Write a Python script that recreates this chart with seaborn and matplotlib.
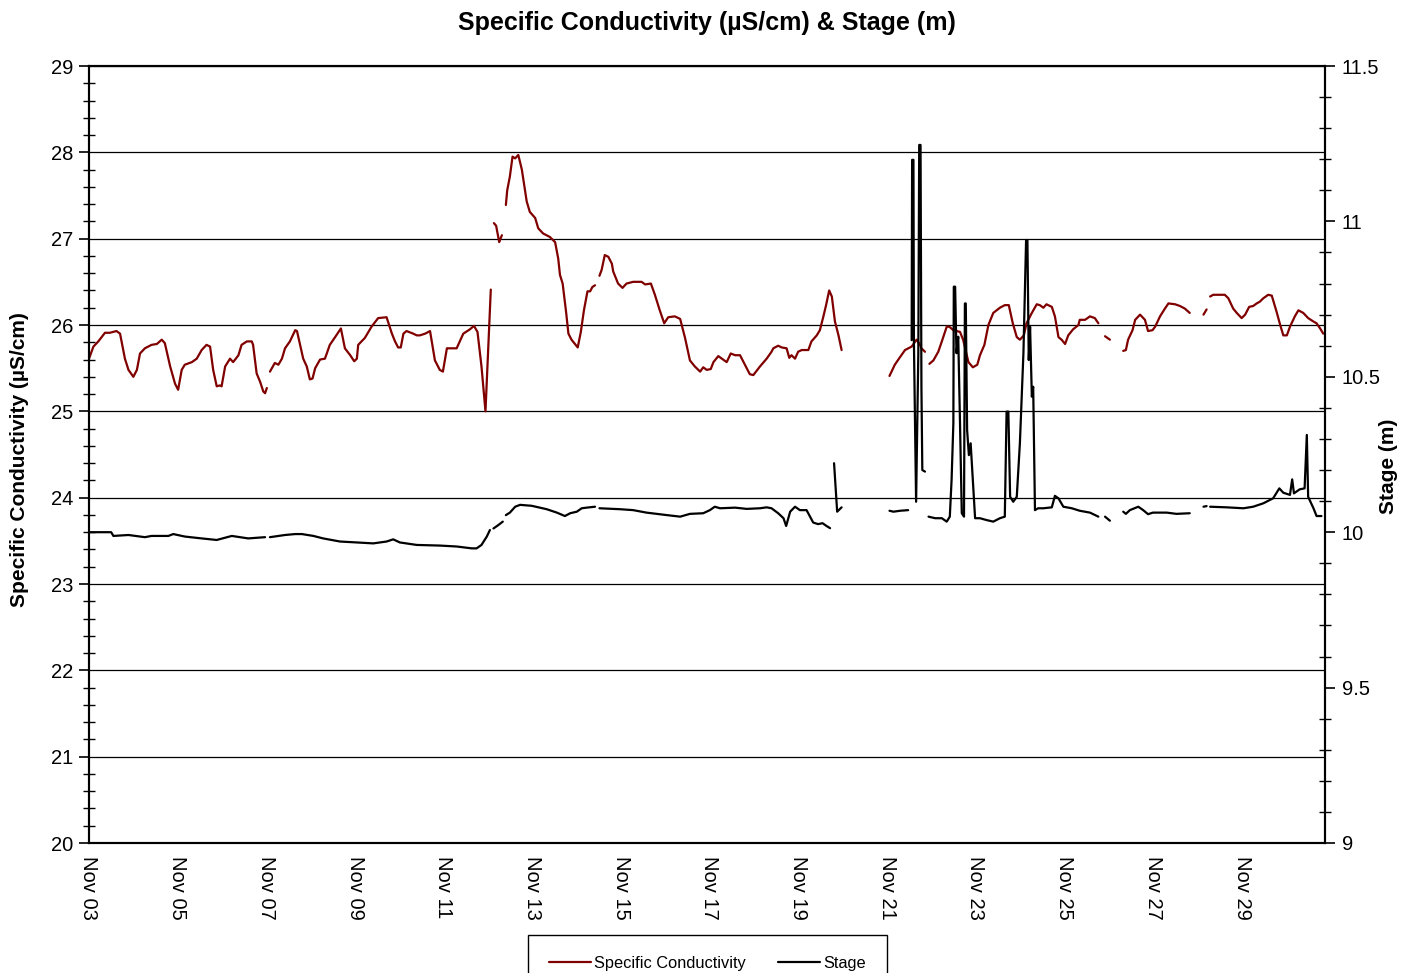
import numpy as np
import pandas as pd
import matplotlib
matplotlib.use("Agg")
import matplotlib.pyplot as plt
import matplotlib.dates as mdates
from matplotlib.ticker import MultipleLocator, FuncFormatter
from matplotlib.lines import Line2D
import seaborn as sns

# ---------------------------------------------------------------------------
# Data: (days since 03 Nov 00:00, value); GAP marks a break in the record
# ---------------------------------------------------------------------------
GAP = (np.nan, np.nan)
START = pd.Timestamp("2008-11-03")
END_DAYS = 27.87

conductivity = [
    (0.00, 25.61), (0.10, 25.75), (0.21, 25.81), (0.36, 25.91), (0.47, 25.91), (0.62, 25.93),
    (0.70, 25.90), (0.81, 25.61), (0.89, 25.48), (1.00, 25.40), (1.08, 25.48), (1.15, 25.67),
    (1.26, 25.73), (1.41, 25.77), (1.53, 25.78), (1.64, 25.83), (1.71, 25.79), (1.83, 25.52),
    (1.94, 25.32), (2.01, 25.25), (2.09, 25.48), (2.16, 25.54), (2.32, 25.57), (2.43, 25.61),
    (2.54, 25.71), (2.65, 25.77), (2.73, 25.75), (2.80, 25.48), (2.88, 25.29), (2.95, 25.30),
    (2.99, 25.29), (3.07, 25.52), (3.18, 25.61), (3.25, 25.57), (3.37, 25.65), (3.44, 25.77),
    (3.56, 25.81), (3.67, 25.81), (3.70, 25.77), (3.78, 25.44), (3.86, 25.34), (3.93, 25.23),
    (3.97, 25.21), (4.01, 25.27),
    GAP,
    (4.08, 25.46), (4.19, 25.56), (4.27, 25.54), (4.35, 25.61), (4.42, 25.73), (4.53, 25.81),
    (4.65, 25.94), (4.69, 25.93), (4.83, 25.61), (4.91, 25.52), (4.98, 25.37), (5.04, 25.38),
    (5.10, 25.50), (5.21, 25.60), (5.32, 25.61), (5.43, 25.77), (5.55, 25.86), (5.68, 25.96),
    (5.77, 25.73), (5.89, 25.65), (5.98, 25.58), (6.04, 25.61), (6.07, 25.77), (6.22, 25.85),
    (6.37, 25.98), (6.52, 26.08), (6.71, 26.09), (6.83, 25.90), (6.90, 25.81), (6.97, 25.74),
    (7.03, 25.74), (7.09, 25.90), (7.16, 25.93), (7.31, 25.90), (7.39, 25.88), (7.46, 25.88),
    (7.58, 25.90), (7.69, 25.93), (7.80, 25.59), (7.91, 25.48), (7.98, 25.46), (8.07, 25.73),
    (8.18, 25.73), (8.29, 25.73), (8.44, 25.90), (8.59, 25.95), (8.68, 25.99), (8.76, 25.92),
    (8.85, 25.52), (8.94, 25.00), (9.06, 26.41),
    GAP,
    (9.13, 27.18), (9.18, 27.15), (9.25, 26.96), (9.31, 27.04),
    GAP,
    (9.40, 27.39), (9.43, 27.56), (9.49, 27.72), (9.55, 27.95), (9.61, 27.93), (9.68, 27.97),
    (9.76, 27.80), (9.87, 27.43), (9.94, 27.31), (10.06, 27.24), (10.13, 27.12), (10.24, 27.06),
    (10.39, 27.02), (10.51, 26.96), (10.58, 26.77), (10.62, 26.58), (10.68, 26.48), (10.76, 26.14),
    (10.81, 25.90), (10.88, 25.83), (11.02, 25.74), (11.09, 25.92), (11.16, 26.17), (11.24, 26.39),
    (11.30, 26.39), (11.35, 26.44), (11.41, 26.46),
    GAP,
    (11.51, 26.57), (11.56, 26.64), (11.63, 26.81), (11.71, 26.79), (11.79, 26.71), (11.82, 26.62),
    (11.93, 26.48), (12.03, 26.43), (12.12, 26.48), (12.27, 26.50), (12.46, 26.50), (12.54, 26.47),
    (12.67, 26.48), (12.76, 26.35), (12.87, 26.17), (12.97, 26.02), (13.06, 26.09), (13.21, 26.10),
    (13.33, 26.07), (13.44, 25.85), (13.55, 25.59), (13.66, 25.52), (13.78, 25.46), (13.85, 25.51),
    (13.93, 25.48), (14.02, 25.49), (14.08, 25.57), (14.19, 25.64), (14.27, 25.61), (14.38, 25.57),
    (14.47, 25.67), (14.57, 25.65), (14.68, 25.65), (14.79, 25.54), (14.90, 25.43), (14.98, 25.42),
    (15.13, 25.52), (15.28, 25.61), (15.39, 25.69), (15.43, 25.73), (15.54, 25.76), (15.62, 25.74),
    (15.73, 25.73), (15.79, 25.62), (15.84, 25.65), (15.92, 25.61), (15.99, 25.69), (16.07, 25.71),
    (16.22, 25.71), (16.29, 25.81), (16.41, 25.88), (16.48, 25.94), (16.56, 26.10), (16.62, 26.23),
    (16.69, 26.40), (16.75, 26.33), (16.82, 26.04), (16.90, 25.88), (16.97, 25.71),
    GAP,
    (18.05, 25.41), (18.17, 25.54), (18.29, 25.63), (18.40, 25.71), (18.55, 25.75), (18.66, 25.83),
    (18.74, 25.77), (18.77, 25.73), (18.85, 25.69),
    GAP,
    (18.95, 25.55), (19.04, 25.59), (19.15, 25.69), (19.23, 25.81), (19.34, 25.98), (19.40, 25.98),
    (19.49, 25.94), (19.64, 25.92), (19.71, 25.83), (19.83, 25.57), (19.93, 25.51), (20.03, 25.54),
    (20.09, 25.65), (20.19, 25.77), (20.28, 26.00), (20.39, 26.14), (20.54, 26.20), (20.65, 26.23),
    (20.74, 26.23), (20.83, 26.02), (20.92, 25.86), (20.99, 25.83), (21.08, 25.88), (21.14, 26.02),
    (21.26, 26.14), (21.37, 26.24), (21.44, 26.23), (21.52, 26.20), (21.59, 26.24), (21.71, 26.21),
    (21.78, 26.10), (21.86, 25.86), (21.93, 25.83), (22.01, 25.78), (22.08, 25.88), (22.19, 25.95),
    (22.31, 26.00), (22.34, 26.06), (22.46, 26.06), (22.57, 26.10), (22.68, 26.08), (22.76, 26.02),
    GAP,
    (22.91, 25.87), (23.02, 25.83),
    GAP,
    (23.32, 25.70), (23.38, 25.71), (23.43, 25.83), (23.53, 25.94), (23.59, 26.06), (23.70, 26.12),
    (23.81, 26.06), (23.88, 25.93), (23.98, 25.94), (24.04, 25.98), (24.15, 26.10), (24.26, 26.19),
    (24.34, 26.25), (24.49, 26.24), (24.60, 26.22), (24.71, 26.19), (24.82, 26.14),
    GAP,
    (25.13, 26.12), (25.20, 26.18),
    GAP,
    (25.28, 26.33), (25.35, 26.35), (25.61, 26.35), (25.69, 26.31), (25.80, 26.19), (25.88, 26.14),
    (25.99, 26.08), (26.07, 26.12), (26.16, 26.21), (26.25, 26.22), (26.33, 26.25), (26.40, 26.27),
    (26.48, 26.31), (26.59, 26.35), (26.67, 26.34), (26.78, 26.15), (26.86, 26.00), (26.93, 25.88),
    (27.01, 25.88), (27.08, 25.98), (27.19, 26.10), (27.27, 26.17), (27.38, 26.14), (27.49, 26.08),
    (27.61, 26.04), (27.68, 26.02), (27.76, 25.96), (27.83, 25.90),
]

stage = [
    (0.00, 10.000), (0.50, 10.000), (0.55, 9.988), (0.89, 9.991), (1.26, 9.984), (1.41, 9.988),
    (1.79, 9.988), (1.90, 9.994), (2.16, 9.986), (2.54, 9.980), (2.88, 9.975), (3.22, 9.988),
    (3.59, 9.980), (3.97, 9.984),
    GAP,
    (4.08, 9.984), (4.42, 9.991), (4.65, 9.994), (4.80, 9.994), (5.06, 9.988), (5.28, 9.980),
    (5.66, 9.970), (6.04, 9.967), (6.41, 9.964), (6.71, 9.970), (6.86, 9.977), (7.01, 9.967),
    (7.39, 9.959), (7.91, 9.957), (8.29, 9.954), (8.63, 9.948), (8.74, 9.948), (8.85, 9.959),
    (8.97, 9.986), (9.04, 10.007),
    GAP,
    (9.12, 10.012), (9.23, 10.023), (9.33, 10.034),
    GAP,
    (9.40, 10.055), (9.49, 10.063), (9.61, 10.082), (9.72, 10.088), (9.98, 10.085), (10.32, 10.074),
    (10.55, 10.063), (10.73, 10.052), (10.85, 10.061), (11.00, 10.066), (11.11, 10.077),
    (11.22, 10.079), (11.41, 10.082),
    GAP,
    (11.51, 10.077), (11.97, 10.074), (12.27, 10.071), (12.57, 10.063), (13.03, 10.055),
    (13.33, 10.050), (13.55, 10.059), (13.85, 10.061), (14.00, 10.071), (14.11, 10.082),
    (14.23, 10.077), (14.57, 10.079), (14.83, 10.075), (15.13, 10.077), (15.28, 10.080),
    (15.39, 10.077), (15.54, 10.061), (15.66, 10.045), (15.72, 10.020), (15.81, 10.066),
    (15.92, 10.082), (16.03, 10.071), (16.18, 10.071), (16.33, 10.031), (16.44, 10.026),
    (16.54, 10.029), (16.63, 10.020), (16.71, 10.013),
    GAP,
    (16.80, 10.222), (16.87, 10.066), (16.97, 10.080),
    GAP,
    (18.05, 10.069), (18.14, 10.066), (18.29, 10.069), (18.47, 10.071),
    GAP,
    (18.55, 10.618), (18.56, 11.198), (18.59, 11.198), (18.60, 10.618), (18.65, 10.098),
    (18.70, 10.576), (18.72, 11.246), (18.75, 11.246), (18.77, 10.468), (18.79, 10.200),
    (18.85, 10.195),
    GAP,
    (18.93, 10.050), (19.08, 10.045), (19.23, 10.045), (19.34, 10.034), (19.41, 10.050),
    (19.45, 10.168), (19.49, 10.350), (19.50, 10.790), (19.53, 10.790), (19.56, 10.576),
    (19.60, 10.629), (19.64, 10.350), (19.68, 10.061), (19.73, 10.050), (19.75, 10.736),
    (19.77, 10.736), (19.80, 10.329), (19.84, 10.248), (19.88, 10.286), (19.98, 10.045),
    (20.09, 10.045), (20.24, 10.039), (20.39, 10.034), (20.54, 10.045), (20.65, 10.050),
    (20.69, 10.388), (20.73, 10.388), (20.77, 10.114), (20.84, 10.098), (20.92, 10.114),
    (20.99, 10.286), (21.07, 10.576), (21.13, 10.940), (21.16, 10.940), (21.19, 10.554),
    (21.22, 10.661), (21.26, 10.436), (21.29, 10.468), (21.33, 10.071), (21.40, 10.077),
    (21.52, 10.077), (21.71, 10.080), (21.78, 10.117), (21.86, 10.109), (21.97, 10.082),
    (22.16, 10.077), (22.34, 10.069), (22.57, 10.063), (22.76, 10.050),
    GAP,
    (22.91, 10.050), (23.02, 10.037),
    GAP,
    (23.32, 10.066), (23.38, 10.059), (23.47, 10.071), (23.66, 10.082), (23.77, 10.071),
    (23.88, 10.058), (23.99, 10.063), (24.30, 10.063), (24.52, 10.059), (24.82, 10.061),
    GAP,
    (25.13, 10.082), (25.20, 10.084),
    GAP,
    (25.28, 10.082), (25.65, 10.080), (26.03, 10.077), (26.25, 10.082), (26.48, 10.093),
    (26.70, 10.109), (26.84, 10.141), (26.93, 10.127), (27.08, 10.120), (27.13, 10.170),
    (27.17, 10.125), (27.30, 10.138), (27.41, 10.141), (27.46, 10.313), (27.49, 10.114),
    (27.61, 10.077), (27.68, 10.052), (27.79, 10.052),
]

COND_COLOR = "#800000"
STAGE_COLOR = "#000000"


def to_frame(points):
    """Turn (day, value) pairs into a frame with one id per unbroken run."""
    df = pd.DataFrame(points, columns=["day", "value"])
    gap = df["value"].isna()
    df["segment"] = gap.cumsum()
    df = df[~gap].copy()
    df["time"] = START + pd.to_timedelta(df["day"], unit="D")
    return df


cond_df = to_frame(conductivity)
stage_df = to_frame(stage)

# ---------------------------------------------------------------------------
# Styling
# ---------------------------------------------------------------------------
sns.set_style("white")
plt.rcParams["font.family"] = ["Liberation Sans", "DejaVu Sans"]
plt.rcParams["text.color"] = "black"
plt.rcParams["axes.labelcolor"] = "black"
plt.rcParams["xtick.color"] = "black"
plt.rcParams["ytick.color"] = "black"

fig = plt.figure(figsize=(14.14, 9.73), dpi=100)
fig.subplots_adjust(left=89 / 1414, right=1325 / 1414, top=1 - 66 / 973, bottom=1 - 843 / 973)
ax = fig.add_subplot(111)
ax2 = ax.twinx()

sns.lineplot(data=cond_df, x="time", y="value", units="segment", estimator=None,
             sort=False, color=COND_COLOR, linewidth=1.6, ax=ax, legend=False)
sns.lineplot(data=stage_df, x="time", y="value", units="segment", estimator=None,
             sort=False, color=STAGE_COLOR, linewidth=1.6, ax=ax2, legend=False)

# x axis: date ticks, labels every second day
ax.set_xlim(START, START + pd.Timedelta(days=END_DAYS))
ax.xaxis.set_major_locator(mdates.DayLocator(bymonthday=range(1, 32, 2)))
ax.xaxis.set_minor_locator(mdates.DayLocator())
ax.xaxis.set_major_formatter(mdates.DateFormatter("%b %d"))
for lbl in ax.get_xticklabels():
    lbl.set_rotation(-90)
    lbl.set_ha("center")
    lbl.set_va("top")

# left axis
ax.set_ylim(20, 29)
ax.yaxis.set_major_locator(MultipleLocator(1))
ax.yaxis.set_minor_locator(MultipleLocator(0.2))
ax.grid(axis="y", which="major", color="black", linewidth=0.9)
ax.grid(axis="x", visible=False)

# right axis
ax2.set_ylim(9, 11.5)
ax2.yaxis.set_major_locator(MultipleLocator(0.5))
ax2.yaxis.set_minor_locator(MultipleLocator(0.1))
ax2.yaxis.set_major_formatter(FuncFormatter(lambda v, _: f"{v:g}"))
ax2.grid(False)

ax.set_xlabel("")
ax.set_ylabel("")
ax2.set_ylabel("")

tick_fs = 14.5
ax.tick_params(axis="x", which="both", direction="out", length=7, width=1.2,
               labelsize=tick_fs, pad=2)
ax.tick_params(axis="y", which="major", direction="out", length=7, width=1.2,
               labelsize=tick_fs, pad=4)
ax.tick_params(axis="y", which="minor", direction="inout", length=8, width=1.0, left=True)
ax2.tick_params(axis="y", which="major", direction="out", length=7, width=1.2,
                labelsize=tick_fs, pad=5)
ax2.tick_params(axis="y", which="minor", direction="inout", length=8, width=1.0, right=True)

for a in (ax, ax2):
    for side in ("left", "right", "top", "bottom"):
        a.spines[side].set_visible(True)
        a.spines[side].set_color("black")
        a.spines[side].set_linewidth(1.5)

# titles and axis labels
fig.text(0.5, 1 - 23 / 973, "Specific Conductivity (µS/cm) & Stage (m)",
         ha="center", va="center", fontsize=18, fontweight="bold")
fig.text(20 / 1414, 1 - 460 / 973, "Specific Conductivity (µS/cm)", rotation=90,
         ha="center", va="center", fontsize=15, fontweight="bold")
fig.text(1388 / 1414, 1 - 466 / 973, "Stage (m)", rotation=90,
         ha="center", va="center", fontsize=15, fontweight="bold")

# legend below the plot
handles = [Line2D([], [], color=COND_COLOR, linewidth=1.6),
           Line2D([], [], color=STAGE_COLOR, linewidth=1.6)]
leg = fig.legend(handles, ["Specific Conductivity", "Stage"], loc="upper left",
                 bbox_to_anchor=(528 / 1414, 1 - 935 / 973), ncol=2, frameon=True,
                 fancybox=False, edgecolor="black", framealpha=1, fontsize=11.75,
                 handlelength=2.58, handletextpad=0.2, columnspacing=1.95,
                 borderpad=1.28, borderaxespad=0)
leg.get_frame().set_linewidth(1.0)

fig.savefig("out.png", dpi=100)
